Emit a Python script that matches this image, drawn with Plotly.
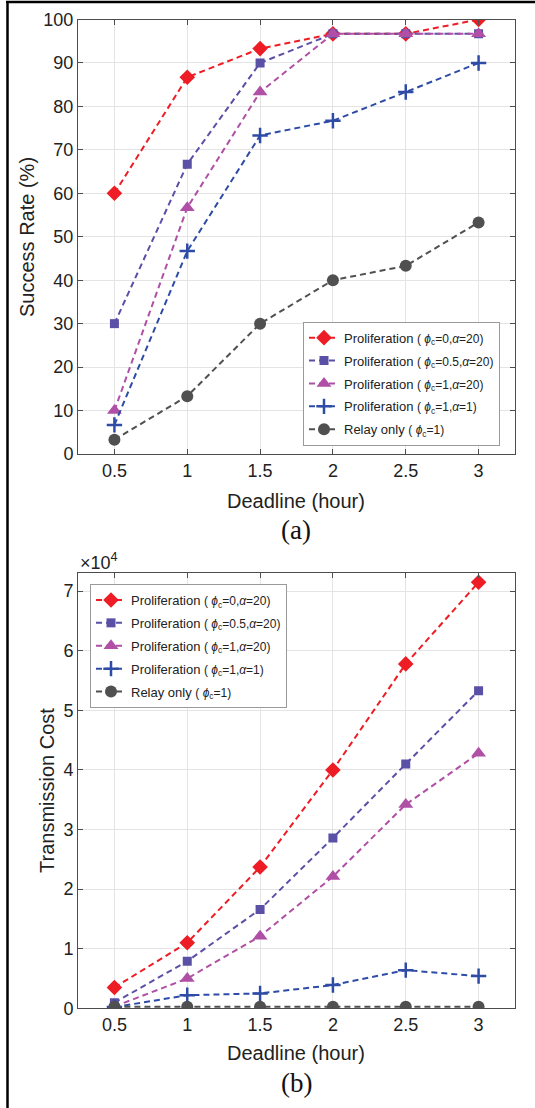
import plotly.graph_objects as go

deadline = [0.5, 1, 1.5, 2, 2.5, 3]

# (a) success rate (%)
sr_phi0_a20 = [60, 86.7, 93.3, 96.7, 96.7, 100]
sr_phi05_a20 = [30, 66.7, 90, 96.7, 96.7, 96.7]
sr_phi1_a20 = [10, 56.7, 83.3, 96.7, 96.7, 96.7]
sr_phi1_a1 = [6.7, 46.7, 73.3, 76.7, 83.3, 90]
sr_relay = [3.3, 13.3, 30, 40, 43.3, 53.3]

# (b) transmission cost
tc_phi0_a20 = [3500, 11000, 23700, 40000, 57800, 71500]
tc_phi05_a20 = [950, 7900, 16600, 28600, 41000, 53300]
tc_phi1_a20 = [300, 5000, 12100, 22100, 34200, 42800]
tc_phi1_a1 = [200, 2200, 2500, 3900, 6400, 5400]
tc_relay = [250, 250, 250, 250, 250, 250]

x_ticks = [0.5, 1, 1.5, 2, 2.5, 3]
x_ticktext = ["0.5", "1", "1.5", "2", "2.5", "3"]
sr_ticks = [0, 10, 20, 30, 40, 50, 60, 70, 80, 90, 100]
tc_ticks = [0, 10000, 20000, 30000, 40000, 50000, 60000, 70000]
tc_ticktext = ["0", "1", "2", "3", "4", "5", "6", "7"]

S = '<span style="font-size:12px">'
names = [
    "Proliferation " + S + "( <i>ϕ</i><sub>c</sub>=0,<i>α</i>=20)</span>",
    "Proliferation " + S + "( <i>ϕ</i><sub>c</sub>=0.5,<i>α</i>=20)</span>",
    "Proliferation " + S + "( <i>ϕ</i><sub>c</sub>=1,<i>α</i>=20)</span>",
    "Proliferation " + S + "( <i>ϕ</i><sub>c</sub>=1,<i>α</i>=1)</span>",
    "Relay only " + S + "( <i>ϕ</i><sub>c</sub>=1)</span>",
]
colors = ["#EE1C24", "#5A50A6", "#B04FA6", "#2E4CA6", "#505050"]
symbols = ["diamond", "square", "triangle-up", "cross-thin", "circle"]
sizes = [12, 9, 13, 11, 12]

FONT = "Liberation Sans, Arial, sans-serif"
fig = go.Figure()

series_a = [sr_phi0_a20, sr_phi05_a20, sr_phi1_a20, sr_phi1_a1, sr_relay]
series_b = [tc_phi0_a20, tc_phi05_a20, tc_phi1_a20, tc_phi1_a1, tc_relay]

for i in range(5):
    marker = dict(symbol=symbols[i], size=sizes[i], color=colors[i])
    if symbols[i] == "cross-thin":
        marker["line"] = dict(color=colors[i], width=2.5)
    fig.add_trace(go.Scatter(
        x=deadline, y=series_a[i], mode="lines+markers", name=names[i],
        line=dict(color=colors[i], width=2, dash="6px,4px"),
        marker=marker, xaxis="x", yaxis="y", legend="legend",
        legendgroup="a%d" % i,
    ))
for i in range(5):
    marker = dict(symbol=symbols[i], size=sizes[i], color=colors[i])
    if symbols[i] == "cross-thin":
        marker["line"] = dict(color=colors[i], width=2.5)
    fig.add_trace(go.Scatter(
        x=deadline, y=series_b[i], mode="lines+markers", name=names[i],
        line=dict(color=colors[i], width=2, dash="6px,4px"),
        marker=marker, xaxis="x2", yaxis="y2", legend="legend2",
        legendgroup="b%d" % i,
    ))

W, H = 535, 1108
xl, xr = 78 / W, 515 / W
ax_common = dict(
    showline=True, linecolor="#4d4d4d", linewidth=1, mirror="ticks",
    ticks="inside", ticklen=5, tickcolor="#4d4d4d", automargin=False,
    showgrid=True, gridcolor="#e4e4e4", gridwidth=1, zeroline=False,
    tickfont=dict(family=FONT, size=18, color="#222"),
)

legend_common = dict(
    xanchor="left", yanchor="top", bgcolor="white", bordercolor="#9a9a9a",
    borderwidth=1, font=dict(family=FONT, size=13, color="#222"),
    tracegroupgap=3, itemwidth=30,
)

fig.update_layout(
    width=W, height=H, margin=dict(l=0, r=0, t=0, b=0, autoexpand=False),
    paper_bgcolor="white", plot_bgcolor="white",
    font=dict(family=FONT, color="#222"),
    xaxis=dict(domain=[xl, xr], range=[0.25, 3.25], tickvals=x_ticks,
               ticktext=x_ticktext, anchor="y", **ax_common),
    yaxis=dict(domain=[1 - 454 / H, 1 - 19.5 / H], range=[0, 100],
               tickvals=sr_ticks, anchor="x", **ax_common),
    xaxis2=dict(domain=[xl, xr], range=[0.25, 3.25], tickvals=x_ticks,
                ticktext=x_ticktext, anchor="y2", **ax_common),
    yaxis2=dict(domain=[1 - 1008.3 / H, 1 - 573.3 / H], range=[0, 73000],
                tickvals=tc_ticks, ticktext=tc_ticktext, anchor="x2", **ax_common),
    legend=dict(x=303 / W, y=1 - 321.7 / H, **legend_common),
    legend2=dict(x=90 / W, y=1 - 584 / H, **legend_common),
    showlegend=True,
)

ann = []
ann.append(dict(text="Success Rate (%)", x=27 / W, y=1 - 237 / H, textangle=-90,
                font=dict(family=FONT, size=20, color="#222")))
ann.append(dict(text="Deadline (hour)", x=296 / W, y=1 - 501 / H,
                font=dict(family=FONT, size=20, color="#222")))
ann.append(dict(text="(a)", x=296 / W, y=1 - 530 / H,
                font=dict(family="Liberation Serif, Times New Roman, serif", size=27, color="#111")))
ann.append(dict(text="Transmission Cost", x=47 / W, y=1 - 791 / H, textangle=-90,
                font=dict(family=FONT, size=20, color="#222")))
ann.append(dict(text="Deadline (hour)", x=296 / W, y=1 - 1053 / H,
                font=dict(family=FONT, size=20, color="#222")))
ann.append(dict(text="(b)", x=296 / W, y=1 - 1083 / H,
                font=dict(family="Liberation Serif, Times New Roman, serif", size=27, color="#111")))
ann.append(dict(text="×10<sup>4</sup>", x=78 / W, y=1 - 561 / H, xanchor="left",
                font=dict(family=FONT, size=18, color="#222")))
for a in ann:
    a.update(xref="paper", yref="paper", showarrow=False)
    a.setdefault("xanchor", "center")
    a.setdefault("yanchor", "middle")
fig.update_layout(annotations=ann)

fig.update_layout(shapes=[
    dict(type="line", xref="paper", yref="paper", x0=7.5 / W, x1=7.5 / W, y0=0, y1=1 - 1 / H,
         line=dict(color="black", width=2.5)),
    dict(type="line", xref="paper", yref="paper", x0=6 / W, x1=1, y0=1 - 2 / H, y1=1 - 2 / H,
         line=dict(color="black", width=2.5)),
])

fig.write_html(
    "out.html",
    config={"displayModeBar": False},
    post_script="document.body.style.margin='0';document.body.style.overflow='hidden';",
)
